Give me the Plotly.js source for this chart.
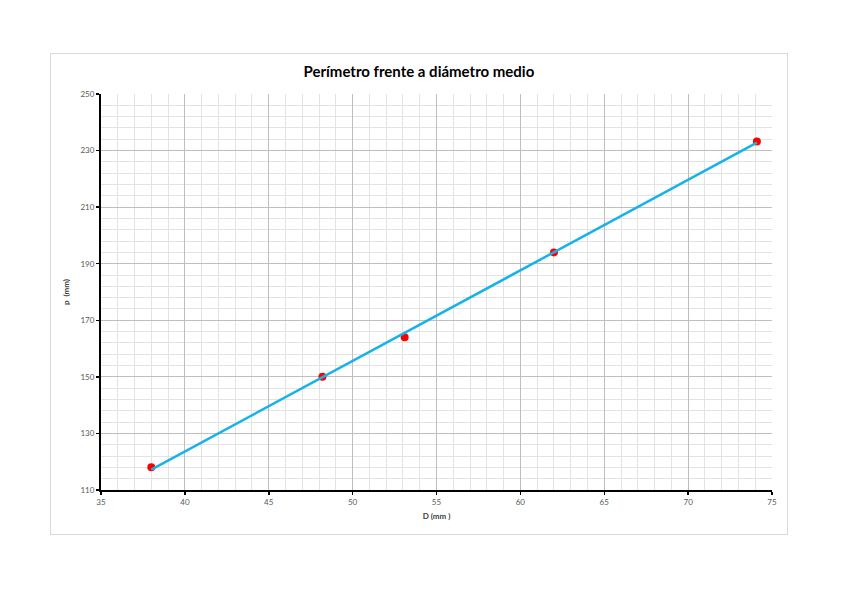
<!DOCTYPE html>
<html>
<head>
<meta charset="utf-8">
<script src="https://cdn.plot.ly/plotly-3.0.1.min.js"></script>
<style>
html,body{margin:0;padding:0;background:#fff;}
#frame{position:absolute;left:50px;top:53px;width:736px;height:480px;border:1px solid #d9d9d9;}
#chart{position:absolute;left:0;top:0;width:848px;height:599px;}
</style>
</head>
<body>
<div id="frame"></div>
<div id="chart"></div>
<script>
// Measured data: mean diameter D (mm) and perimeter p (mm)
const diameter = [38.0, 48.2, 53.1, 62.0, 74.1];
const perimeter = [118.0, 150.0, 164.0, 194.0, 233.2];
// Linear trendline endpoints
const trendX = [38.0, 74.1];
const trendY = [117.2, 232.8];
const xTicks = [35, 40, 45, 50, 55, 60, 65, 70, 75];
const yTicks = [110, 130, 150, 170, 190, 210, 230, 250];

const traces = [
  {x: diameter, y: perimeter, type: 'scatter', mode: 'markers',
   marker: {color: '#ff0000', size: 8}, hoverinfo: 'x+y'},
  {x: trendX, y: trendY, type: 'scatter', mode: 'lines',
   line: {color: '#17b2ea', width: 2.5}}
];

const layout = {
  width: 848, height: 599,
  paper_bgcolor: 'rgba(0,0,0,0)', plot_bgcolor: 'rgba(0,0,0,0)',
  margin: {l: 101, r: 76, t: 94, b: 109},
  showlegend: false,
  title: {text: '<b>Perímetro frente a diámetro medio</b>',
    font: {family: 'Lato, "Open Sans", sans-serif', size: 15, color: '#000'},
    x: 0.494, xanchor: 'center', y: 0.88, yanchor: 'middle'},
  xaxis: {
    range: [35, 75], tickvals: xTicks, ticktext: xTicks.map(String),
    showline: true, linecolor: '#000', linewidth: 2,
    ticks: 'outside', ticklen: 3, tickwidth: 1.5, tickcolor: '#000',
    showgrid: true, gridcolor: '#bfbfbf', gridwidth: 1, zeroline: false,
    minor: {dtick: 1, tick0: 35, showgrid: true, gridcolor: '#e3e3e3', gridwidth: 1},
    tickfont: {family: 'Lato, sans-serif', size: 8, color: '#595959'},
    title: {text: '<b>D (mm )</b>', standoff: 8,
      font: {family: 'Lato, sans-serif', size: 8, color: '#404040'}}
  },
  yaxis: {
    range: [110, 250], tickvals: yTicks, ticktext: yTicks.map(String),
    showline: true, linecolor: '#000', linewidth: 2,
    ticks: 'outside', ticklen: 3, tickwidth: 1.5, tickcolor: '#000',
    showgrid: true, gridcolor: '#bfbfbf', gridwidth: 1, zeroline: false,
    minor: {dtick: 4, tick0: 110, showgrid: true, gridcolor: '#e3e3e3', gridwidth: 1},
    tickfont: {family: 'Lato, sans-serif', size: 8, color: '#595959'},
    title: {text: '<b>p  (mm)</b>', standoff: 10,
      font: {family: 'Lato, sans-serif', size: 8, color: '#404040'}}
  }
};

Plotly.newPlot('chart', traces, layout, {displayModeBar: false, staticPlot: true});
</script>
</body>
</html>
